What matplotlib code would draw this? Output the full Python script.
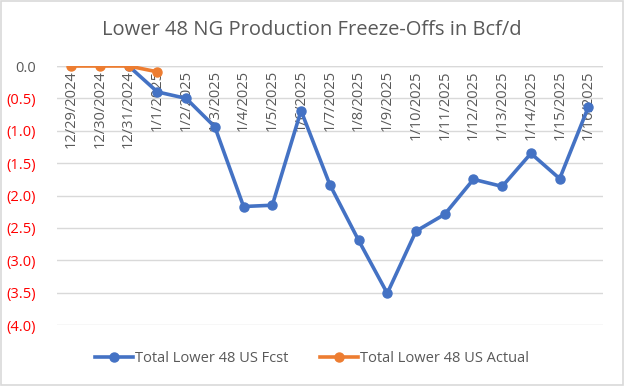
import matplotlib
matplotlib.use("Agg")
import matplotlib.pyplot as plt
from matplotlib.ticker import FuncFormatter
from matplotlib.patches import Rectangle

dates = ["12/29/2024", "12/30/2024", "12/31/2024", "1/1/2025", "1/2/2025", "1/3/2025",
         "1/4/2025", "1/5/2025", "1/6/2025", "1/7/2025", "1/8/2025", "1/9/2025",
         "1/10/2025", "1/11/2025", "1/12/2025", "1/13/2025", "1/14/2025", "1/15/2025",
         "1/16/2025"]
fcst = [None, None, 0.0, -0.40, -0.50, -0.94, -2.17, -2.15, -0.69, -1.83, -2.69, -3.51,
        -2.55, -2.29, -1.75, -1.86, -1.35, -1.74, -0.63]
actual = [0.0, 0.0, 0.0, -0.09]

plt.rcParams['font.family'] = ['Open Sans', 'DejaVu Sans']
fig = plt.figure(figsize=(6.24, 3.86), dpi=100)
ax = fig.add_axes([0.091, 0.158, 0.875, 0.671])

n = len(dates)
fx = [i for i, v in enumerate(fcst) if v is not None]
fy = [v for v in fcst if v is not None]
ax.plot(fx, fy, color='#4472C4', lw=2.6, marker='o', ms=6.5, label='Total Lower 48 US Fcst',
        solid_joinstyle='round', zorder=3)
ax.plot(range(len(actual)), actual, color='#ED7D31', lw=2.6, marker='o', ms=6.5,
        label='Total Lower 48 US Actual', zorder=4)

ax.set_xlim(-0.5, n - 0.5)
ax.set_ylim(-4.0, 0.0)
ax.set_yticks([0, -0.5, -1, -1.5, -2, -2.5, -3, -3.5, -4])
ax.yaxis.set_major_formatter(FuncFormatter(lambda v, p: "0.0" if abs(v) < 1e-9 else f"({abs(v):.1f})"))
ax.tick_params(axis='y', length=0, pad=15, labelsize=10.5)
fig.canvas.draw()
for lbl in ax.get_yticklabels():
    if lbl.get_text() == "0.0":
        lbl.set_color('#595959')
    else:
        lbl.set_color('#FF0000')
ax.set_xticks([])
ax.grid(axis='y', color='#D9D9D9', lw=1)
ax.set_axisbelow(True)
for s in ax.spines.values():
    s.set_visible(False)
ax.axhline(0, color='#D9D9D9', lw=1, zorder=1)

for i, d in enumerate(dates):
    ax.annotate(d, xy=(i, 0), xytext=(0, -3), textcoords='offset points', rotation=90,
                ha='center', va='top', fontsize=10.5, color='#595959', zorder=2)

fig.text(0.5, 0.922, "Lower 48 NG Production Freeze-Offs in Bcf/d", ha='center', va='center',
         fontsize=14.5, color='#595959')

fig.legend(loc='center', bbox_to_anchor=(0.5, 0.072), ncol=2, frameon=False, fontsize=10.5,
           handlelength=2.6, columnspacing=2.2, handletextpad=0.1, labelcolor='#595959')

fig.patches.append(Rectangle((0.001, 0.002), 0.997, 0.996, transform=fig.transFigure,
                             fill=False, edgecolor='#D9D9D9', lw=1.2))
fig.savefig("out.png", dpi=100)
